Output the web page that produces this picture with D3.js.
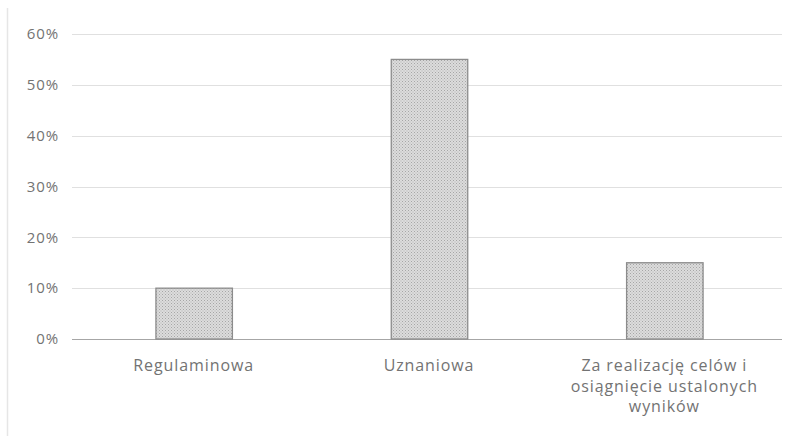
<!DOCTYPE html>
<html><head><meta charset="utf-8">
<script src="https://cdn.jsdelivr.net/npm/d3@7"></script>
<style>body{margin:0;background:#fff}svg{display:block}</style>
</head><body>
<svg id="c" width="798" height="436"></svg>
<script>
const categories = ["Regulaminowa", "Uznaniowa", "Za realizację celów i osiągnięcie ustalonych wyników"];
const labelLines = [["Regulaminowa"], ["Uznaniowa"], ["Za realizację celów i", "osiągnięcie ustalonych", "wyników"]];
const values = [0.10, 0.55, 0.15];
const yTicks = [0, 0.1, 0.2, 0.3, 0.4, 0.5, 0.6];

const svg = d3.select("#c");
const defs = svg.append("defs");
const pat = defs.append("pattern").attr("id","dots").attr("width",3).attr("height",3).attr("patternUnits","userSpaceOnUse");
pat.append("rect").attr("width",3).attr("height",3).attr("fill","#dcdcdc");
pat.append("rect").attr("x",0).attr("y",0).attr("width",1).attr("height",1).attr("fill","#a6a6a6");
pat.append("rect").attr("x",1.5).attr("y",1.5).attr("width",1).attr("height",1).attr("fill","#b3b3b3");

// outer border line at left
svg.append("line").attr("x1",7.5).attr("x2",7.5).attr("y1",8).attr("y2",436).attr("stroke","#e6e6e6").attr("stroke-width",1.5);

const x = d3.scaleBand().domain(categories).range([76, 782]).paddingInner(0.675).paddingOuter(0.3375);
const y = d3.scaleLinear().domain([0, 0.6]).range([339, 34]);

const grid = svg.append("g");
yTicks.forEach(t => {
  grid.append("line").attr("x1",72).attr("x2",782).attr("y1",Math.round(y(t))+0.5).attr("y2",Math.round(y(t))+0.5)
    .attr("stroke", t===0 ? "#a6a6a6" : "#e0e0e0").attr("stroke-width", 1);
});

const yAxis = d3.axisLeft(y).tickValues(yTicks).tickFormat(d3.format(".0%")).tickSize(0).tickPadding(0);
const ga = svg.append("g").attr("transform","translate(59,0)").call(yAxis);
ga.select(".domain").remove();
ga.selectAll("text").attr("fill","#737373").style("font-family","Open Sans, sans-serif").style("font-size","15px").style("letter-spacing","0.9px");

svg.append("g").selectAll("rect").data(values).join("rect")
  .attr("x",(d,i)=>x(categories[i])+0.5)
  .attr("y",d=>y(d))
  .attr("width",x.bandwidth())
  .attr("height",d=>y(0)-y(d))
  .attr("fill","url(#dots)")
  .attr("stroke","#8c8c8c").attr("stroke-width",1.3);

const lab = svg.append("g");
labelLines.forEach((lines,i)=>{
  const cx = x(categories[i]) + x.bandwidth()/2;
  const t = lab.append("text").attr("x",cx).attr("y",371).attr("text-anchor","middle")
    .attr("fill","#737373").style("font-family","Open Sans, sans-serif").style("font-size","16px").style("letter-spacing","0.9px");
  lines.forEach((l,j)=>t.append("tspan").attr("x",cx).attr("dy", j===0?0:20.5).text(l));
});
</script>
</body></html>
